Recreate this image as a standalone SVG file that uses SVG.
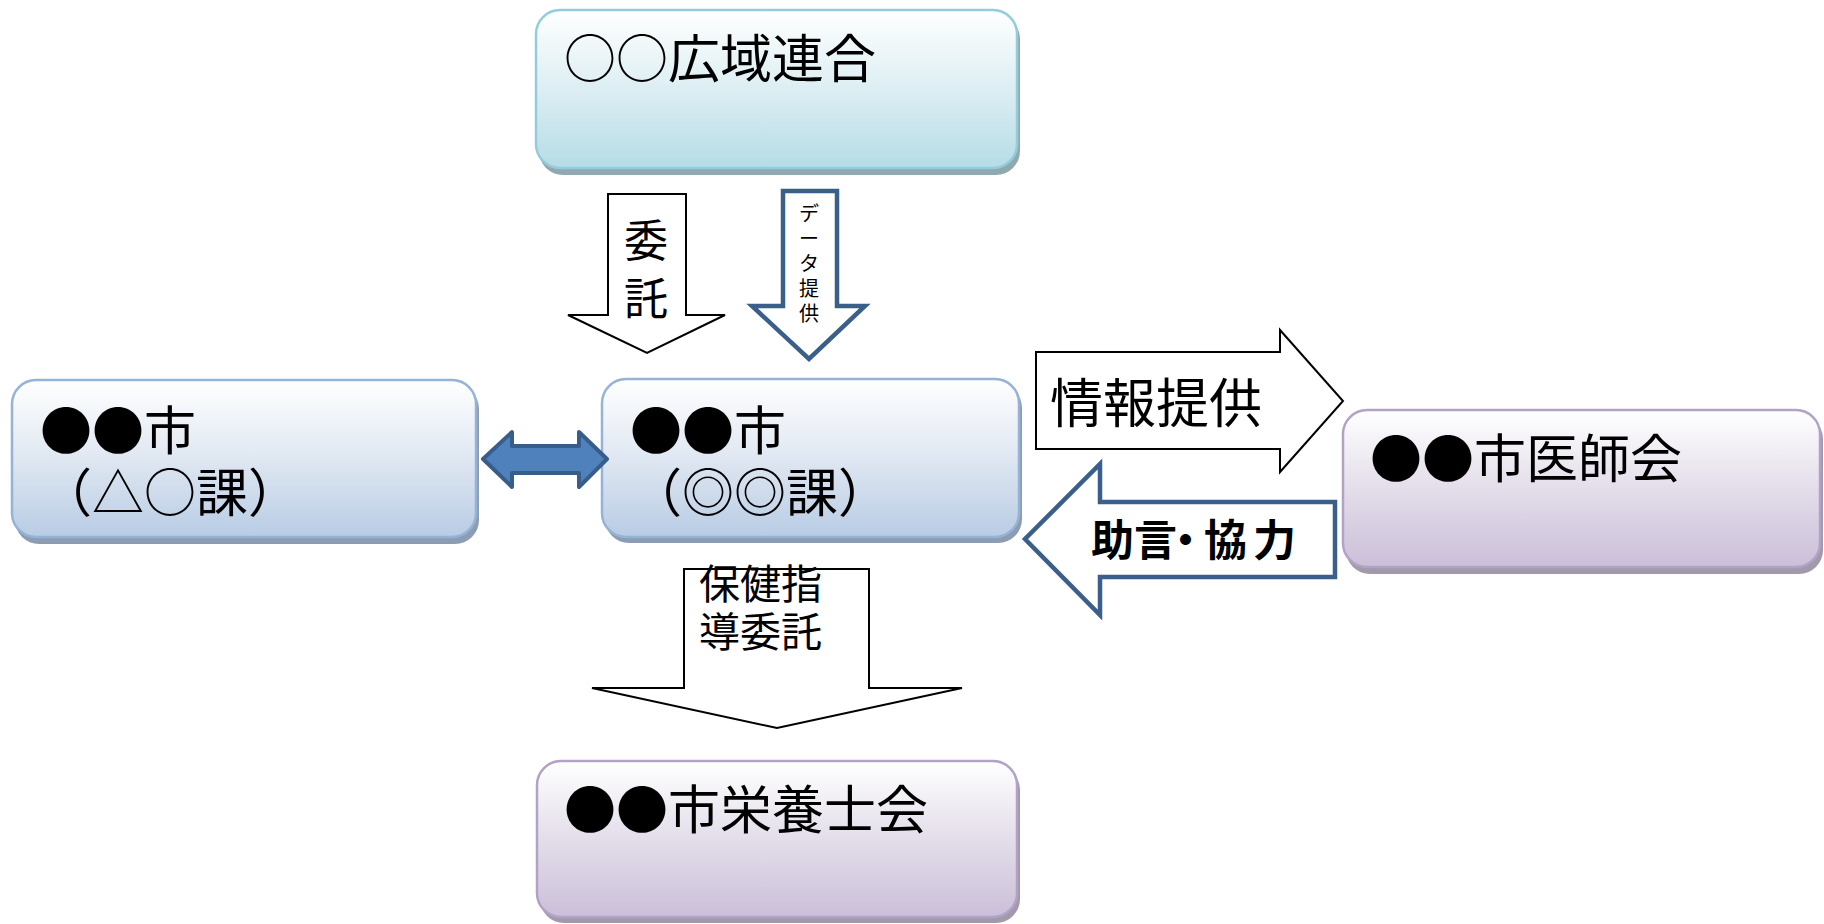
<svg xmlns="http://www.w3.org/2000/svg" width="1824" height="924" viewBox="0 0 1824 924">
<defs>
<linearGradient id="gTeal" x1="0" y1="0" x2="0" y2="1">
<stop offset="0" stop-color="#ffffff"/><stop offset="0.45" stop-color="#e0f0f4"/><stop offset="1" stop-color="#b6dce6"/>
</linearGradient>
<linearGradient id="gBlue" x1="0" y1="0" x2="0" y2="1">
<stop offset="0" stop-color="#ffffff"/><stop offset="0.45" stop-color="#e3eaf3"/><stop offset="1" stop-color="#b8cce4"/>
</linearGradient>
<linearGradient id="gPurple" x1="0" y1="0" x2="0" y2="1">
<stop offset="0" stop-color="#ffffff"/><stop offset="0.45" stop-color="#e6e1ec"/><stop offset="1" stop-color="#cbbfd9"/>
</linearGradient>
<style>
.t{font-family:"Noto Sans CJK JP","Noto Sans",sans-serif;fill:#000}
.big{font-size:52px}
.teal{fill:url(#gTeal);stroke:#93cddd;stroke-width:2.5}
.blue{fill:url(#gBlue);stroke:#95b3d7;stroke-width:2.5}
.purple{fill:url(#gPurple);stroke:#b3a2c7;stroke-width:2.5}
.shT{fill:#8fa9ae}
.shB{fill:#8c9db3}
.shP{fill:#a29aab}
.blk{fill:#fff;stroke:#000;stroke-width:2;stroke-linejoin:miter}
.bl{fill:#fff;stroke:#3a5f8b;stroke-width:4.5;stroke-linejoin:miter}
</style>
</defs>
<rect width="1824" height="924" fill="#fff"/>

<g id="node-kouiki">
<rect class="shT" x="539" y="15" width="481" height="160" rx="24"/>
<rect class="teal" x="536" y="10" width="481" height="158" rx="24"/>
<text class="t big" x="564" y="78">○○広域連合</text>
</g>

<g id="node-shi-sankaku">
<rect class="shB" x="15" y="385" width="464" height="159" rx="24"/>
<rect class="blue" x="12" y="380" width="464" height="157" rx="24"/>
<text class="t big" x="40" y="450">●●市</text>
<text class="t big" x="40" y="512">（△○課）</text>
</g>

<g id="node-shi-nijumaru">
<rect class="shB" x="605" y="384" width="417" height="159" rx="24"/>
<rect class="blue" x="602" y="379" width="417" height="158" rx="24"/>
<text class="t big" x="630" y="450">●●市</text>
<text class="t big" x="630" y="512">（◎◎課）</text>
</g>

<g id="node-ishikai">
<rect class="shP" x="1346" y="415" width="477" height="159" rx="24"/>
<rect class="purple" x="1343" y="410" width="477" height="157" rx="24"/>
<text class="t big" x="1370" y="478">●●市医師会</text>
</g>

<g id="node-eiyoushikai">
<rect class="shP" x="540" y="766" width="480" height="157" rx="24"/>
<rect class="purple" x="537" y="761" width="480" height="156" rx="24"/>
<text class="t big" x="564" y="829">●●市栄養士会</text>
</g>

<g id="connectors">
<polygon points="483,459 512,432 512,446 579,446 579,432 607,459 579,487 579,473 512,473 512,487" fill="#4f81bd" stroke="#385d8a" stroke-width="4" stroke-linejoin="round"/>

<polygon class="blk" points="608,194 686,194 686,315 725,315 647,353 568,315 608,315"/>
<text class="t" font-size="44" x="646" y="257" text-anchor="middle">委</text>
<text class="t" font-size="44" x="646" y="315" text-anchor="middle">託</text>

<polygon class="bl" points="783,191 837,191 837,306 865,306 809,359 752,306 783,306"/>
<text class="t" font-size="20" text-anchor="middle" x="809" y="221">デ</text>
<text class="t" font-size="20" text-anchor="middle" x="809" y="246">ー</text>
<text class="t" font-size="20" text-anchor="middle" x="809" y="271">タ</text>
<text class="t" font-size="20" text-anchor="middle" x="809" y="296">提</text>
<text class="t" font-size="20" text-anchor="middle" x="809" y="321">供</text>

<polygon class="blk" points="1036,352 1280,352 1280,330 1343,401 1280,472 1280,449 1036,449"/>
<text class="t" font-size="53" x="1050" y="423">情報提供</text>

<polygon class="bl" points="1335,502 1100,502 1100,464 1025,539 1100,615 1100,577 1335,577"/>
<text class="t" font-size="43" font-weight="700" x="1091 1134 1164 1204 1253" y="556">助言・協力</text>

<polygon class="blk" points="684,569 869,569 869,688 962,688 777,728 592,688 684,688"/>
<text class="t" font-size="41" x="699" y="599">保健指</text>
<text class="t" font-size="41" x="699" y="647">導委託</text>
</g>
</svg>
